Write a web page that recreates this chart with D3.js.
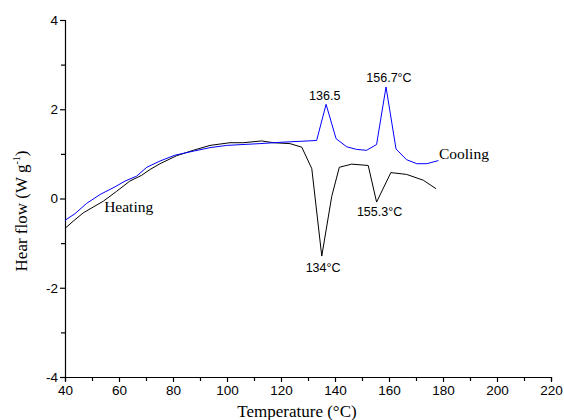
<!DOCTYPE html>
<html>
  <head>
    <script src="https://d3js.org/d3.v7.min.js"></script>
    <style>
      body { margin: 0; background: #fff; }
    </style>
  </head>
  <body>
    <script>

// heating (black) curve, temperature in °C and heat flow in W/g
const heatT = [40, 43, 46.8, 54.2, 59.1, 64, 68.4, 71.5, 75.2, 81.4, 87.5, 93.7, 101.1, 106, 112.8, 117.2, 123.3, 127.7, 131.4, 135.1, 138.8, 141.6, 146.2, 152.3, 155.4, 160.7, 166.5, 172.7, 177.4];
const heatY = [-0.67, -0.51, -0.32, -0.06, 0.16, 0.39, 0.52, 0.65, 0.78, 0.96, 1.08, 1.19, 1.25, 1.25, 1.29, 1.25, 1.23, 1.15, 0.67, -1.29, 0.05, 0.70, 0.77, 0.74, -0.08, 0.58, 0.54, 0.41, 0.22];

// cooling (blue) curve
const coolT = [40, 43.7, 48, 53, 58.5, 62.2, 66.5, 70.3, 75.2, 80.7, 87.5, 93.7, 99.9, 112.2, 120, 133.2, 136.7, 140.4, 144.3, 148, 151.7, 155.4, 158.9, 162.6, 166.5, 170.3, 174, 178.3];
const coolY = [-0.49, -0.34, -0.11, 0.09, 0.26, 0.39, 0.50, 0.70, 0.84, 0.97, 1.06, 1.14, 1.19, 1.23, 1.26, 1.30, 2.11, 1.34, 1.16, 1.10, 1.08, 1.21, 2.50, 1.11, 0.87, 0.78, 0.78, 0.85];

const xTicks = [40, 60, 80, 100, 120, 140, 160, 180, 200, 220];
const yTicks = [-4, -2, 0, 2, 4];

// peak labels: text, anchor temperature, anchor heat flow
const peakLabels = [
  { text: "136.5", t: 136.2, y: 2.2 },
  { text: "156.7°C", t: 160, y: 2.6 },
  { text: "155.3°C", t: 156.5, y: -0.4 },
  { text: "134°C", t: 135.6, y: -1.65 }
];

const width = 564, height = 420;
const margin = { top: 20, right: 13, bottom: 43, left: 65 };

const svg = d3.select("body").append("svg")
    .attr("width", width)
    .attr("height", height);

const x = d3.scaleLinear().domain([40, 220]).range([margin.left, width - margin.right]);
const y = d3.scaleLinear().domain([-4, 4]).range([height - margin.bottom, margin.top]);

const xAxis = d3.axisBottom(x)
    .tickValues(d3.range(40, 221, 10))
    .tickSize(4)
    .tickFormat(d => xTicks.includes(d) ? d : "");
const yAxis = d3.axisLeft(y)
    .tickValues(d3.range(-4, 4.1, 1))
    .tickSize(4)
    .tickFormat(d => yTicks.includes(d) ? d : "");

const gx = svg.append("g")
    .attr("transform", `translate(0,${y(-4)})`)
    .call(xAxis);
const gy = svg.append("g")
    .attr("transform", `translate(${x(40)},0)`)
    .call(yAxis);

[gx, gy].forEach(g => {
  g.select(".domain").attr("stroke", "#000").attr("stroke-width", 1.2);
  g.selectAll(".tick line").attr("stroke", "#000").attr("stroke-width", 1.2);
  g.selectAll("text")
    .attr("font-family", "Liberation Sans, Arial, sans-serif")
    .attr("font-size", 13.5)
    .attr("fill", "#000");
});
gx.selectAll("text").attr("dy", "0.85em");
// major ticks a bit longer
gx.selectAll(".tick line").attr("y2", d => xTicks.includes(d) ? 5 : 4);
gy.selectAll(".tick line").attr("x2", d => yTicks.includes(d) ? -5 : -4);

const line = d3.line()
    .x(d => x(d[0]))
    .y(d => y(d[1]));

svg.append("path")
    .datum(heatT.map((t, i) => [t, heatY[i]]))
    .attr("fill", "none")
    .attr("stroke", "#000")
    .attr("stroke-width", 1)
    .attr("d", line);

svg.append("path")
    .datum(coolT.map((t, i) => [t, coolY[i]]))
    .attr("fill", "none")
    .attr("stroke", "#0000ff")
    .attr("stroke-width", 1)
    .attr("d", line);

svg.selectAll(".peak")
    .data(peakLabels)
    .enter().append("text")
    .attr("class", "peak")
    .attr("x", d => x(d.t))
    .attr("y", d => y(d.y))
    .attr("text-anchor", "middle")
    .attr("font-family", "Liberation Sans, Arial, sans-serif")
    .attr("font-size", 12.5)
    .text(d => d.text);

const serif = "Liberation Serif, Times New Roman, serif";

svg.append("text")
    .attr("x", x(54.5))
    .attr("y", y(-0.3))
    .attr("font-family", serif)
    .attr("font-size", 15.5)
    .text("Heating");

svg.append("text")
    .attr("x", x(178.5))
    .attr("y", y(0.88))
    .attr("font-family", serif)
    .attr("font-size", 15.5)
    .text("Cooling");

svg.append("text")
    .attr("x", 297)
    .attr("y", height - 3)
    .attr("text-anchor", "middle")
    .attr("font-family", serif)
    .attr("font-size", 17)
    .text("Temperature (°C)");

const ylab = svg.append("text")
    .attr("transform", `translate(27,${y(-0.28)}) rotate(-90)`)
    .attr("text-anchor", "middle")
    .attr("font-family", serif)
    .attr("font-size", 17);
ylab.append("tspan").text("Hear flow (W g");
ylab.append("tspan").attr("dy", -7).attr("font-size", 10).text("-1");
ylab.append("tspan").attr("dy", 7).text(")");

    </script>
  </body>
</html>
